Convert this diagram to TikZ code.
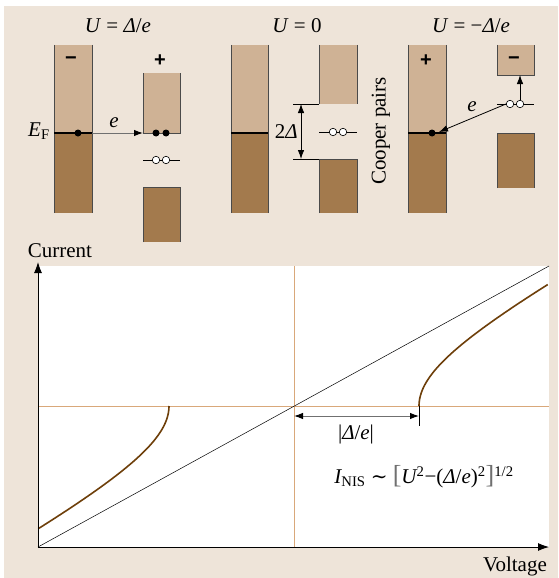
\documentclass[tikz,border=0pt]{standalone}
\usepackage{fontspec}
\setmainfont{Liberation Serif}
\newfontfamily\symfont{Liberation Sans}
\newfontfamily\dvs{DejaVu Serif}
\usetikzlibrary{arrows.meta}
\definecolor{bgc}{HTML}{EEE4D9}
\definecolor{lightb}{HTML}{CFB295}
\definecolor{darkb}{HTML}{A37A4D}
\definecolor{orl}{HTML}{D9A87A}
\definecolor{curvec}{HTML}{6E3F0A}
\definecolor{edgec}{HTML}{4A4A4A}
\definecolor{greyline}{HTML}{707070}
\begin{document}
\begin{tikzpicture}[x=1pt,y=-1pt,
  font=\fontsize{21}{25}\selectfont,
  lab/.style={inner sep=0pt},
  side/.style={draw=edgec,line width=0.7pt},
  fermi/.style={line width=1.3pt,draw=black},
  pairc/.style={circle,draw=black,fill=white,line width=0.6pt,minimum size=7.5pt,inner sep=0pt},
  elec/.style={circle,fill=black,minimum size=7pt,inner sep=0pt},
  pairline/.style={draw=black,line width=0.6pt},
  tipa/.style={-{Latex[length=9pt,width=6.5pt,color=black]}},
  sgn/.style={inner sep=0pt,font=\fontsize{20}{24}\symfont\bfseries},
  orange/.style={draw=orl,line width=0.8pt},
  axis/.style={draw=black,line width=0.9pt,-{Latex[length=11pt,width=8pt]}},
  curve/.style={draw=curvec,line width=1.6pt}]
% background
\fill[white] (0,0) rectangle (558,578);
\fill[bgc] (4,6) rectangle (558,578);
\useasboundingbox (0,0) rectangle (558,578);

% ---------- Panel 1 : U = Delta/e ----------
\node[lab] (t1) at (118,26) {\itshape U\/ \upshape = \itshape Δ\upshape /\itshape e};
\fill[lightb] (54,45) rectangle (92,133);
\fill[darkb] (54,133) rectangle (92,213);
\draw[side] (54,45) -- (54,213) (92,45) -- (92,213);
\draw[fermi] (54,133) -- (92,133);
\node[sgn] (m1) at (71,61) {−};
\node[lab] (ef) at (39,131) {\itshape E\upshape\textsubscript{F}};
\node[elec] (d1) at (78,133) {};
\coordinate (a1s) at (92,133);
\coordinate (a1e) at (143,133);
\draw[greyline,line width=1pt,tipa] (a1s) -- (a1e);
\node[lab] (e1) at (114,123) {\itshape e};
\fill[lightb] (143,73) rectangle (180,133);
\draw[side] (143,73) -- (143,133) -- (180,133) -- (180,73);
\node[sgn] (p1) at (160,61) {+};
\node[elec] (d2) at (156,133) {};
\node[elec] (d3) at (166,133) {};
\coordinate (cp1l) at (143,160);
\coordinate (cp1r) at (180,160);
\draw[pairline] (cp1l) -- (cp1r);
\node[pairc] (c1) at (156,160) {};
\node[pairc] (c2) at (166,160) {};
\fill[darkb] (143,187) rectangle (180,242);
\draw[side] (143,242) -- (143,187) -- (180,187) -- (180,242);

% ---------- Panel 2 : U = 0 ----------
\node[lab] (t2) at (297,26) {\itshape U\/ \upshape = 0};
\fill[lightb] (231,45) rectangle (268,133);
\fill[darkb] (231,133) rectangle (268,213);
\draw[side] (231,45) -- (231,213) (268,45) -- (268,213);
\draw[fermi] (231,133) -- (268,133);
\fill[lightb] (319,45) rectangle (357,104);
\draw[side] (319,45) -- (319,104) (357,45) -- (357,104);
\fill[darkb] (319,159) rectangle (357,213);
\draw[side] (319,213) -- (319,159) -- (357,159) -- (357,213);
\coordinate (g1) at (293,104);
\coordinate (g2) at (293,159);
\draw[pairline] (g1) -- (319,104);
\draw[pairline] (g2) -- (319,159);
\coordinate (ga) at (301,104);
\coordinate (gb) at (301,159);
\draw[line width=0.8pt,{Latex[length=9pt,width=6.5pt]}-{Latex[length=9pt,width=6.5pt]}] (ga) -- (gb);
\node[lab,anchor=east] (gap) at (298,132) {2\itshape Δ};
\coordinate (cp2l) at (319,132);
\coordinate (cp2r) at (357,132);
\draw[pairline] (cp2l) -- (cp2r);
\node[pairc] (c3) at (333,132) {};
\node[pairc] (c4) at (343,132) {};
\node[lab,rotate=90] (cooper) at (381,131) {Cooper pairs};

% ---------- Panel 3 : U = -Delta/e ----------
\node[lab] (t3) at (471,26) {\itshape U\/ \upshape = −\itshape Δ\upshape /\itshape e};
\fill[lightb] (408,45) rectangle (446,133);
\fill[darkb] (408,133) rectangle (446,213);
\draw[side] (408,45) -- (408,213) (446,45) -- (446,213);
\draw[fermi] (408,133) -- (446,133);
\node[sgn] (p3) at (426,61) {+};
\node[elec] (d4) at (432,133) {};
\fill[lightb] (497,45) rectangle (534,75);
\draw[side] (497,45) -- (497,75) -- (534,75) -- (534,45);
\node[sgn] (m3) at (514,61) {−};
\coordinate (cp3l) at (497,104);
\coordinate (cp3r) at (534,104);
\draw[pairline] (cp3l) -- (cp3r);
\node[pairc] (c5) at (510,104) {};
\node[pairc] (c6) at (520,104) {};
\fill[darkb] (497,133) rectangle (534,188);
\draw[side] (497,188) -- (497,133) -- (534,133) -- (534,188);
\coordinate (a3e) at (439,132);
\draw[line width=0.8pt,tipa] (c5.west) -- (a3e);
\node[lab] (e3) at (472,107) {\itshape e};
\coordinate (a4e) at (520,75);
\draw[line width=0.8pt,tipa] (c6.north) -- (a4e);

% ---------- Plot ----------
\fill[white] (38,266) rectangle (549,547);
\coordinate (o) at (38,547);
\coordinate (yt) at (38,262);
\coordinate (xt) at (549,547);
\coordinate (c0) at (294,406);
\draw[orange] (294,266) -- (294,547);
\draw[orange] (38,406) -- (549,406);
\coordinate (dg) at (549,266);
\draw[line width=0.5pt] (o) -- (dg);
\draw[curve] plot[domain=0:1.335,samples=70,variable=\t] ({294+125*cosh(\t)},{406-68.75*sinh(\t)});
\draw[curve] plot[domain=0:1.344,samples=70,variable=\t] ({294-125*cosh(\t)},{406+68.75*sinh(\t)});
\draw[axis] (o) -- (yt);
\draw[axis] (o) -- (xt);
\coordinate (da) at (294,416);
\coordinate (db) at (419,416);
\draw[greyline,line width=1pt,{Latex[length=9pt,width=6.5pt,color=black]}-{Latex[length=9pt,width=6.5pt,color=black]}] (da) -- (db);
\draw[line width=0.6pt] (419,406) -- (419,426);
\node[lab] (dl) at (356,434) {\textbar\itshape Δ\upshape /\itshape e\upshape\textbar};
\node[lab] (form) at (424,477) {\itshape I\upshape\textsubscript{NIS} {\dvs\fontsize{20}{24}\selectfont ∼} {\color{greyline}\fontsize{26}{26}\selectfont[}\itshape U\upshape\textsuperscript{2}−(\itshape Δ\upshape /\itshape e\upshape )\textsuperscript{2}{\color{greyline}\fontsize{26}{26}\selectfont]}\textsuperscript{1/2}};
\node[lab] (cur) at (60,251) {Current};
\node[lab,anchor=east] (vol) at (547,566) {Voltage};
\end{tikzpicture}
\end{document}
